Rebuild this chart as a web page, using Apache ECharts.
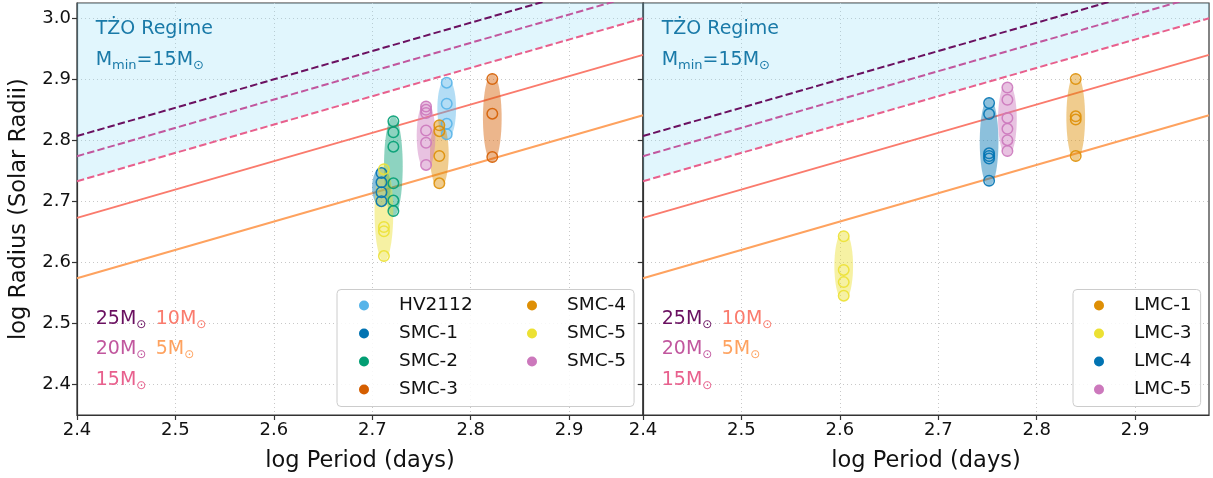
<!DOCTYPE html>
<html><head><meta charset="utf-8">
<script src="https://cdn.jsdelivr.net/npm/echarts@6/dist/echarts.min.js"></script>
<style>html,body{margin:0;padding:0;background:#fff}#c{width:1213px;height:478px}</style>
</head><body><div id="c"></div>
<script>
// ---------- data ----------
const xTicks = [2.4, 2.5, 2.6, 2.7, 2.8, 2.9];
const yTicks = [2.4, 2.5, 2.6, 2.7, 2.8, 2.9, 3.0];
// mass-track lines: log R at log P = 2.4 and at log P = 2.975
const lineLogP = [2.4, 2.975];
const massNames = ['25', '20', '15', '10', '5'];
const line25 = [2.807, 3.074];
const line20 = [2.774, 3.041];
const line15 = [2.733, 3.000];
const line10 = [2.673, 2.940];
const line5  = [2.574, 2.841];

// SMC panel
const smcNames = ['HV2112', 'SMC-1', 'SMC-2', 'SMC-3', 'SMC-4', 'SMC-5', 'SMC-5'];
const smcLogP  = [2.7756, 2.7093, 2.7214, 2.8219, 2.7681, 2.7118, 2.7546];
const smcLogR  = [
  [2.8945, 2.860, 2.827, 2.810],
  [2.7463, 2.7312, 2.715, 2.7003],
  [2.8312, 2.8133, 2.7896, 2.7295, 2.7013, 2.6841],
  [2.9005, 2.8437, 2.7727],
  [2.8247, 2.815, 2.7744, 2.7295],
  [2.7528, 2.658, 2.651, 2.6104],
  [2.8555, 2.850, 2.8448, 2.8161, 2.7961, 2.7597]
];
// LMC panel
const lmcNames = ['LMC-1', 'LMC-3', 'LMC-4', 'LMC-5'];
const lmcLogP  = [2.8396, 2.6039, 2.7516, 2.7702];
const lmcLogR  = [
  [2.9005, 2.8393, 2.834, 2.7744],
  [2.6429, 2.5877, 2.5677, 2.5455],
  [2.861, 2.8432, 2.7787, 2.7744, 2.7701, 2.7338],
  [2.8864, 2.8664, 2.8367, 2.8188, 2.8003, 2.7825]
];

// ---------- styles ----------
const smcColors = ['#56b4e9', '#0173b2', '#029e73', '#d55e00', '#de8f05', '#ece133', '#cc78bc'];
const lmcColors = ['#de8f05', '#ece133', '#0173b2', '#cc78bc'];
const massColors = ['#6a1060', '#c1579e', '#e8608d', '#fa7b6d', '#fea25f'];
const massDashed = [true, true, true, false, false];
const massLines = [line25, line20, line15, line10, line5];
const FONT = 'DejaVu Sans';
const AX = '#333';
const TZO = '#1a7aa8';
const halfW = 0.0095, pad = 0.009;

const chart = echarts.init(document.getElementById('c'), null, {renderer: 'canvas'});

const series = [];
const legendData = [[], []];

function uniqueName(names, i) {
  let n = names[i];
  for (let k = 0; k < i; k++) if (names[k] === names[i]) n += ' ';
  return n;
}

const richStyles = {
  t:  {fontSize: 19, color: TZO, lineHeight: 24, fontFamily: FONT},
  ts: {fontSize: 13, color: TZO, lineHeight: 13, verticalAlign: 'bottom', fontFamily: FONT}
};
massColors.forEach((c, k) => {
  richStyles['m' + k] = {fontSize: 19, color: c, lineHeight: 24, fontFamily: FONT};
  richStyles['s' + k] = {fontSize: 12, color: c, lineHeight: 12, verticalAlign: 'bottom', fontFamily: FONT};
});

function buildPanel(g, names, logP, logR, colors) {
  // mass lines
  massLines.forEach((ln, k) => {
    const s = {
      type: 'line', name: 'M' + massNames[k] + '_' + g, xAxisIndex: g, yAxisIndex: g,
      data: lineLogP.map((p, j) => [p, ln[j]]),
      showSymbol: false, symbol: 'none', silent: true, z: 2,
      lineStyle: {color: massColors[k], width: 2, type: massDashed[k] ? [7.4, 3.2] : 'solid'}
    };
    if (massNames[k] === '15') {
      s.areaStyle = {origin: 'end', color: 'rgb(135,219,247)', opacity: 0.25};
    }
    series.push(s);
  });
  // ellipses
  names.forEach((nm, i) => {
    const rs = logR[i];
    series.push({
      type: 'custom', name: 'band_' + g + '_' + i, xAxisIndex: g, yAxisIndex: g, silent: true, z: 3,
      data: [[logP[i], Math.min(...rs) - pad, Math.max(...rs) + pad]],
      encode: {x: 0, y: [1, 2]},
      renderItem: (params, api) => {
        const p = api.value(0), lo = api.value(1), hi = api.value(2);
        const a = api.coord([p - halfW, hi]);
        const b = api.coord([p + halfW, lo]);
        return {type: 'ellipse',
          shape: {cx: (a[0] + b[0]) / 2, cy: (a[1] + b[1]) / 2, rx: Math.abs(b[0] - a[0]) / 2, ry: Math.abs(b[1] - a[1]) / 2},
          style: {fill: colors[i], opacity: 0.45}};
      }
    });
  });
  // points
  names.forEach((nm, i) => {
    const un = uniqueName(names, i);
    series.push({
      type: 'scatter', name: un, xAxisIndex: g, yAxisIndex: g, z: 4,
      data: logR[i].map(r => [logP[i], r]),
      symbol: 'circle', symbolSize: 10.5,
      itemStyle: {color: 'rgba(0,0,0,0)', borderColor: colors[i], borderWidth: 1.5, opacity: 0.9}
    });
    legendData[g].push({name: un, itemStyle: {color: colors[i], borderWidth: 0, opacity: 1}});
  });
  // annotations
  const ann = (x, y, txt) => ({value: [x, y], label: {formatter: txt}});
  series.push({
    type: 'scatter', name: 'ann_' + g, xAxisIndex: g, yAxisIndex: g, z: 6, silent: true,
    symbolSize: 0, itemStyle: {opacity: 1},
    label: {show: true, position: 'right', distance: 0, fontFamily: FONT, opacity: 1, rich: richStyles},
    data: [
      ann(2.419, 2.9830, '{t|TŻO Regime}'),
      ann(2.419, 2.9320, '{t|M}{ts|min}{t|=15M}{ts|⊙}'),
      ann(2.419, 2.5075, '{m0|25M}{s0|⊙}'),
      ann(2.419, 2.4578, '{m1|20M}{s1|⊙}'),
      ann(2.419, 2.4075, '{m2|15M}{s2|⊙}'),
      ann(2.480, 2.5075, '{m3|10M}{s3|⊙}'),
      ann(2.480, 2.4578, '{m4|5M}{s4|⊙}')
    ]
  });
}

buildPanel(0, smcNames, smcLogP, smcLogR, smcColors);
buildPanel(1, lmcNames, lmcLogP, lmcLogR, lmcColors);

function xAxis(g) {
  return {
    type: 'value', gridIndex: g, min: 2.4, max: 2.975,
    axisLine: {show: true, onZero: false, lineStyle: {color: AX, width: 1.2}},
    axisTick: {show: true, length: 5, customValues: xTicks, lineStyle: {color: AX, width: 1.2}},
    axisLabel: {customValues: xTicks, fontSize: 18, color: '#111', margin: 6, fontFamily: FONT,
      formatter: v => v.toFixed(1)},
    splitLine: {show: true, lineStyle: {type: [1, 3], color: '#c8c8c8', width: 1}},
    name: 'log Period (days)', nameLocation: 'middle', nameGap: 35,
    nameTextStyle: {fontSize: 22.5, color: '#111', fontFamily: FONT}
  };
}
function yAxis(g) {
  return {
    type: 'value', gridIndex: g, min: 2.35, max: 3.025,
    axisLine: {show: true, onZero: false, lineStyle: {color: AX, width: 1.2}},
    axisTick: {show: true, length: 5, customValues: yTicks, lineStyle: {color: AX, width: 1.2}},
    axisLabel: {show: g === 0, customValues: yTicks, fontSize: 18, color: '#111', margin: 6, fontFamily: FONT,
      formatter: v => v.toFixed(1)},
    splitLine: {show: true, lineStyle: {type: [1, 3], color: '#c8c8c8', width: 1}},
    name: g === 0 ? 'log Radius (Solar Radii)' : '', nameLocation: 'middle', nameGap: 46, nameRotate: 90,
    nameTextStyle: {fontSize: 22.5, color: '#111', fontFamily: FONT}
  };
}

const legendCommon = {
  orient: 'vertical', icon: 'circle', itemWidth: 10, itemHeight: 10, itemGap: 6,
  backgroundColor: 'rgba(255,255,255,0.85)', borderColor: '#cccccc', borderWidth: 1, borderRadius: 4,
  selectedMode: false, z: 20,
  textStyle: {fontSize: 18.5, color: '#111', fontFamily: FONT, lineHeight: 22, padding: [0, 0, 0, 25],
    rich: {c1: {width: 122, fontSize: 18.5, fontFamily: FONT, color: '#111', lineHeight: 22},
           c2: {fontSize: 18.5, fontFamily: FONT, color: '#111', lineHeight: 22}}}
};

chart.setOption({
  animation: false,
  textStyle: {fontFamily: FONT},
  grid: [
    {left: 77, top: 3, width: 566, height: 414, show: true, borderColor: AX, borderWidth: 1.2},
    {left: 643, top: 3, width: 566, height: 414, show: true, borderColor: AX, borderWidth: 1.2}
  ],
  xAxis: [xAxis(0), xAxis(1)],
  yAxis: [yAxis(0), yAxis(1)],
  legend: [
    Object.assign({}, legendCommon, {
      left: 337, top: 289.5, height: 130, padding: [5, 8, 6, 22],
      data: legendData[0],
      formatter: name => {
        const idx = legendData[0].findIndex(d => d.name === name);
        return (idx < 4 ? '{c1|' : '{c2|') + name.trim() + '}';
      }
    }),
    Object.assign({}, legendCommon, {
      left: 1073, top: 289.5, height: 130, padding: [5, 9, 6, 21],
      data: legendData[1],
      formatter: name => '{c2|' + name.trim() + '}'
    })
  ],
  series: series
});
</script>
</body></html>
